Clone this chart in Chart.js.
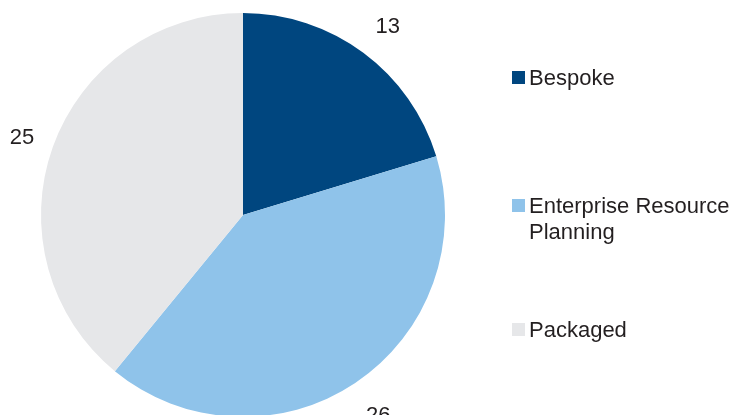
<!DOCTYPE html>
<html>
<head>
<meta charset="utf-8">
<script src="https://cdn.jsdelivr.net/npm/chart.js@4/dist/chart.umd.min.js"></script>
<style>
  html, body { margin: 0; padding: 0; background: #fff; }
  #wrap { position: relative; width: 738px; height: 415px; overflow: hidden; }
  #wrap canvas { position: absolute; left: 0; top: 0; }
  .legend-item {
    position: absolute; left: 512px; width: 226px;
    font: 22px "Liberation Sans", Arial, sans-serif; line-height: 26px; color: #231f20;
    display: flex; align-items: flex-start;
  }
  .legend-item .box { width: 13px; height: 13px; flex: none; margin: 6px 4px 0 0; }
</style>
</head>
<body>
<div id="wrap">
  <canvas id="pie" width="738" height="440"></canvas>
</div>
<script>
const categories = ['Bespoke', 'Enterprise Resource Planning', 'Packaged'];
const values = [13, 26, 25];
const colors = ['#00467f', '#8fc3ea', '#e6e7e9'];

// value labels placed just outside each slice
const outsideLabels = {
    id: 'outsideLabels',
    afterDatasetsDraw(chart) {
        const ctx = chart.ctx;
        const meta = chart.getDatasetMeta(0);
        ctx.save();
        ctx.font = '22px "Liberation Sans", Arial, sans-serif';
        ctx.fillStyle = '#231f20';
        ctx.textAlign = 'center';
        ctx.textBaseline = 'middle';
        meta.data.forEach(function (arc, i) {
            const mid = (arc.startAngle + arc.endAngle) / 2;
            const r = arc.outerRadius + 36;
            ctx.fillText(String(values[i]), arc.x + Math.cos(mid) * r + 3, arc.y + Math.sin(mid) * r + 3);
        });
        ctx.restore();
    }
};

new Chart(document.getElementById('pie'), {
    type: 'pie',
    data: {
        labels: categories,
        datasets: [{
            data: values,
            backgroundColor: colors,
            borderWidth: 0
        }]
    },
    options: {
        responsive: false,
        animation: false,
        layout: { padding: { left: 41, right: 293, top: 13, bottom: 23 } },
        plugins: {
            legend: { display: false },
            tooltip: { enabled: false }
        }
    },
    plugins: [outsideLabels]
});

// legend on the right, spread down the side
const legendTops = [65, 193, 317];
const wrap = document.getElementById('wrap');
categories.forEach(function (name, i) {
    const item = document.createElement('div');
    item.className = 'legend-item';
    item.style.top = legendTops[i] + 'px';
    const box = document.createElement('span');
    box.className = 'box';
    box.style.background = colors[i];
    const text = document.createElement('span');
    text.textContent = name;
    item.appendChild(box);
    item.appendChild(text);
    wrap.appendChild(item);
});
</script>
</body>
</html>
